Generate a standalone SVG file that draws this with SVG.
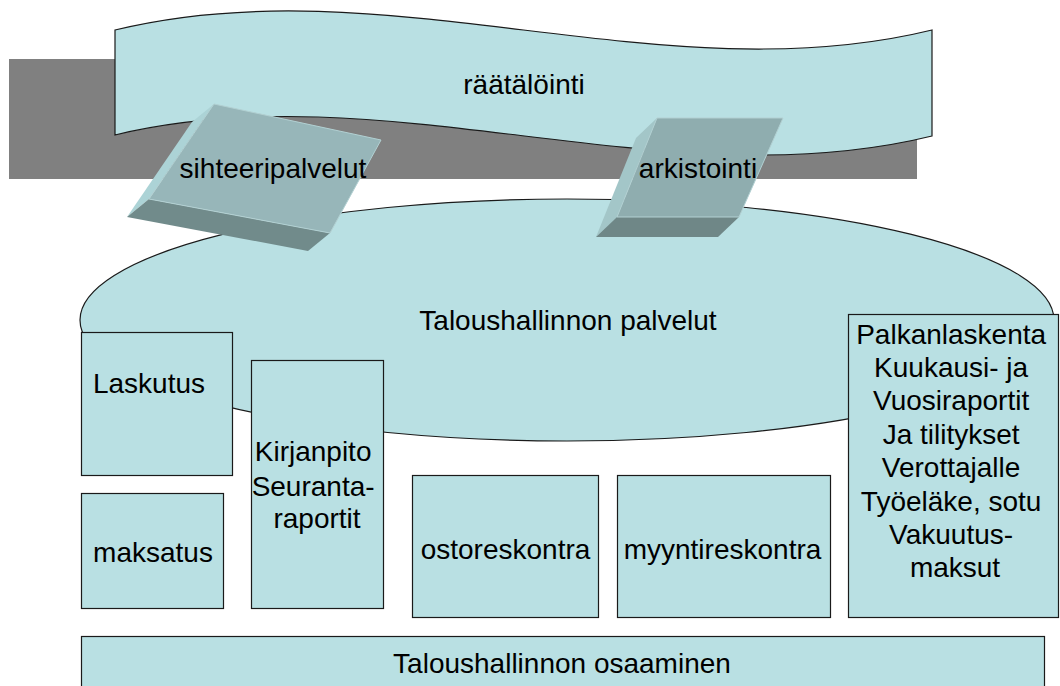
<svg xmlns="http://www.w3.org/2000/svg" width="1060" height="686" viewBox="0 0 1060 686">
  <style>
    .fill { fill: #b9e0e3; stroke: #1a1a1a; stroke-width: 1.2; }
    .lbl { font-family: "Liberation Sans", Arial, sans-serif; font-size: 28px; fill: #000; text-anchor: middle; }
    .face { stroke: #b2d0d2; stroke-width: 1; stroke-linejoin: round; }
  </style>

  <!-- grey backdrop band behind the banner -->
  <rect id="band" x="9" y="59" width="908" height="120" fill="#808080"/>

  <!-- wavy banner -->
  <g id="raatalointi">
    <path class="fill" d="M115,30 C385,-36 662,96 932,30 L932,136 C662,202 385,70 115,135 Z"/>
    <text class="lbl" x="524" y="94">räätälöinti</text>
  </g>

  <!-- large ellipse -->
  <g id="palvelut">
    <ellipse class="fill" cx="567" cy="320" rx="487" ry="121"/>
    <text class="lbl" x="568" y="330">Taloushallinnon palvelut</text>
  </g>

  <!-- tilted slab: sihteeripalvelut -->
  <g id="sihteeripalvelut">
    <polygon points="214,104 149,199 127,217 192,122" fill="#acd3d6"/>
    <polygon points="149,199 330,233 308,251 127,217" fill="#718b8b"/>
    <polygon class="face" points="214,104 381,140 330,233 149,199" fill="#97b6b9"/>
    <text class="lbl" x="273" y="178">sihteeripalvelut</text>
  </g>

  <!-- tilted slab: arkistointi -->
  <g id="arkistointi">
    <polygon points="657,118 617,217 596,237 636,138" fill="#a3c6c8"/>
    <polygon points="617,217 739,217 718,237 596,237" fill="#6f8787"/>
    <polygon class="face" points="657,118 783,118 739,217 617,217" fill="#8fadaf"/>
    <text class="lbl" x="698" y="178">arkistointi</text>
  </g>

  <g id="laskutus">
    <rect class="fill" x="81.5" y="332.5" width="151" height="143"/>
    <text class="lbl" x="149" y="393">Laskutus</text>
  </g>

  <g id="maksatus">
    <rect class="fill" x="81.5" y="493.5" width="142" height="115"/>
    <text class="lbl" x="153" y="562">maksatus</text>
  </g>

  <g id="kirjanpito">
    <rect class="fill" x="251.5" y="360.5" width="132" height="248"/>
    <text class="lbl">
      <tspan x="317" y="461">Kirjanpito</tspan>
      <tspan x="317" y="495.5">Seuranta-</tspan>
      <tspan x="317" y="528">raportit</tspan>
    </text>
  </g>

  <g id="ostoreskontra">
    <rect class="fill" x="412.5" y="475.5" width="186" height="142"/>
    <text class="lbl" x="505.5" y="559">ostoreskontra</text>
  </g>

  <g id="myyntireskontra">
    <rect class="fill" x="617.5" y="475.5" width="213" height="142"/>
    <text class="lbl" x="722.5" y="559">myyntireskontra</text>
  </g>

  <g id="palkanlaskenta">
    <rect class="fill" x="848.5" y="314.5" width="210" height="303"/>
    <text class="lbl">
      <tspan x="955" y="343.5">Palkanlaskenta</tspan>
      <tspan x="955" y="376.9">Kuukausi- ja</tspan>
      <tspan x="955" y="410.3">Vuosiraportit</tspan>
      <tspan x="955" y="443.7">Ja tilitykset</tspan>
      <tspan x="955" y="477.1">Verottajalle</tspan>
      <tspan x="955" y="510.5">Työeläke, sotu</tspan>
      <tspan x="955" y="543.9">Vakuutus-</tspan>
      <tspan x="955" y="577.3">maksut</tspan>
    </text>
  </g>

  <g id="osaaminen">
    <rect class="fill" x="81.5" y="636.5" width="963" height="70"/>
    <text class="lbl" x="562" y="673">Taloushallinnon osaaminen</text>
  </g>

  <g id="connectors"/>
</svg>
